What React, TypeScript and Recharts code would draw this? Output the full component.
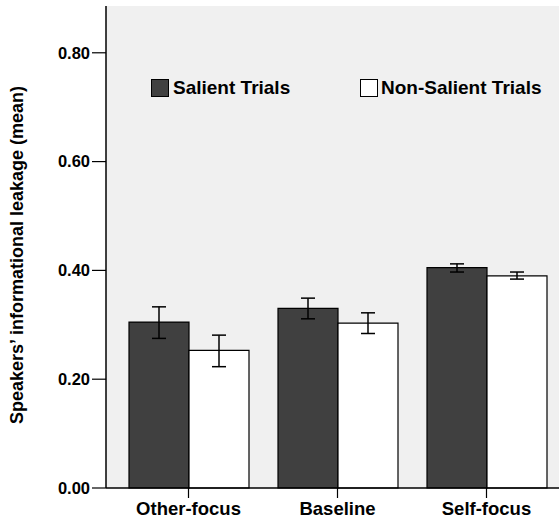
import { BarChart, Bar, XAxis, YAxis, CartesianGrid, ErrorBar, Legend, Label } from 'recharts';

const categories = ['Other-focus', 'Baseline', 'Self-focus'];
const salientMean = [0.305, 0.33, 0.405];
const salientLow = [0.275, 0.311, 0.397];
const salientHigh = [0.333, 0.349, 0.412];
const nonSalientMean = [0.253, 0.303, 0.39];
const nonSalientLow = [0.223, 0.284, 0.384];
const nonSalientHigh = [0.281, 0.322, 0.397];
const yTicks = [0, 0.2, 0.4, 0.6, 0.8];

const data = categories.map((c, i) => ({
  name: c,
  salient: salientMean[i],
  salientErr: [salientMean[i] - salientLow[i], salientHigh[i] - salientMean[i]],
  nonSalient: nonSalientMean[i],
  nonSalientErr: [nonSalientMean[i] - nonSalientLow[i], nonSalientHigh[i] - nonSalientMean[i]],
}));

const FONT = '"Liberation Sans", Arial, Helvetica, sans-serif';
const DARK = '#404040';

const LegendBox = () => (
  <div style={{ display: 'flex', fontFamily: FONT, fontWeight: 'bold', fontSize: 19, color: '#000' }}>
    <div style={{ display: 'flex', alignItems: 'center', width: 209 }}>
      <span style={{ width: 16, height: 16, background: DARK, border: '1px solid #000', marginRight: 4 }} />
      <span>Salient Trials</span>
    </div>
    <div style={{ display: 'flex', alignItems: 'center' }}>
      <span style={{ width: 16, height: 16, background: '#fff', border: '1px solid #000', marginRight: 3 }} />
      <span>Non-Salient Trials</span>
    </div>
  </div>
);

export default function App() {
  return (
    <div style={{ position: 'absolute', left: 0, top: 0, width: 559, height: 522, overflow: 'hidden', background: '#fff' }}>
      <BarChart
        width={561}
        height={522}
        data={data}
        margin={{ top: 6, right: 0, bottom: 0, left: 0 }}
        barCategoryGap={15}
        barGap={0}
      >
        <CartesianGrid fill="#f0f0f0" horizontal={false} vertical={false} />
        <XAxis
          dataKey="name"
          height={34}
          padding={{ left: 8, right: 0 }}
          tickSize={10}
          tickMargin={4}
          tick={{ fill: '#000', fontSize: 18.5, fontWeight: 'bold', fontFamily: FONT }}
          axisLine={{ stroke: '#000', strokeWidth: 1.5 }}
          tickLine={{ stroke: '#000', strokeWidth: 1.2 }}
        />
        <XAxis xAxisId="top" orientation="top" height={0} tick={false} tickLine={false} axisLine={{ stroke: '#000', strokeWidth: 1.5 }} />
        <YAxis
          width={106}
          domain={[0, 0.886]}
          ticks={yTicks}
          tickSize={14}
          tickMargin={2}
          tickFormatter={(v: number) => v.toFixed(2)}
          tick={{ fill: '#000', fontSize: 16.5, fontWeight: 'bold', fontFamily: FONT }}
          axisLine={{ stroke: '#000', strokeWidth: 1.5 }}
          tickLine={{ stroke: '#000', strokeWidth: 1.2 }}
        >
          <Label
            content={() => (
              <text
                x={23}
                y={255}
                transform="rotate(-90, 23, 255)"
                textAnchor="middle"
                fill="#000"
                fontSize={18}
                fontWeight="bold"
                fontFamily={FONT}
              >
                Speakers’ informational leakage (mean)
              </text>
            )}
          />
        </YAxis>
        <Legend
          layout="horizontal"
          verticalAlign="middle"
          align="center"
          content={<LegendBox />}
          wrapperStyle={{ top: 77, left: 151, width: 400 }}
        />
        <Bar dataKey="salient" fill={DARK} stroke="#000" strokeWidth={1.2} isAnimationActive={false}>
          <ErrorBar dataKey="salientErr" width={7} stroke="#000" strokeWidth={1.5} />
        </Bar>
        <Bar dataKey="nonSalient" fill="#fff" stroke="#000" strokeWidth={1.2} isAnimationActive={false}>
          <ErrorBar dataKey="nonSalientErr" width={7} stroke="#000" strokeWidth={1.5} />
        </Bar>
      </BarChart>
    </div>
  );
}
